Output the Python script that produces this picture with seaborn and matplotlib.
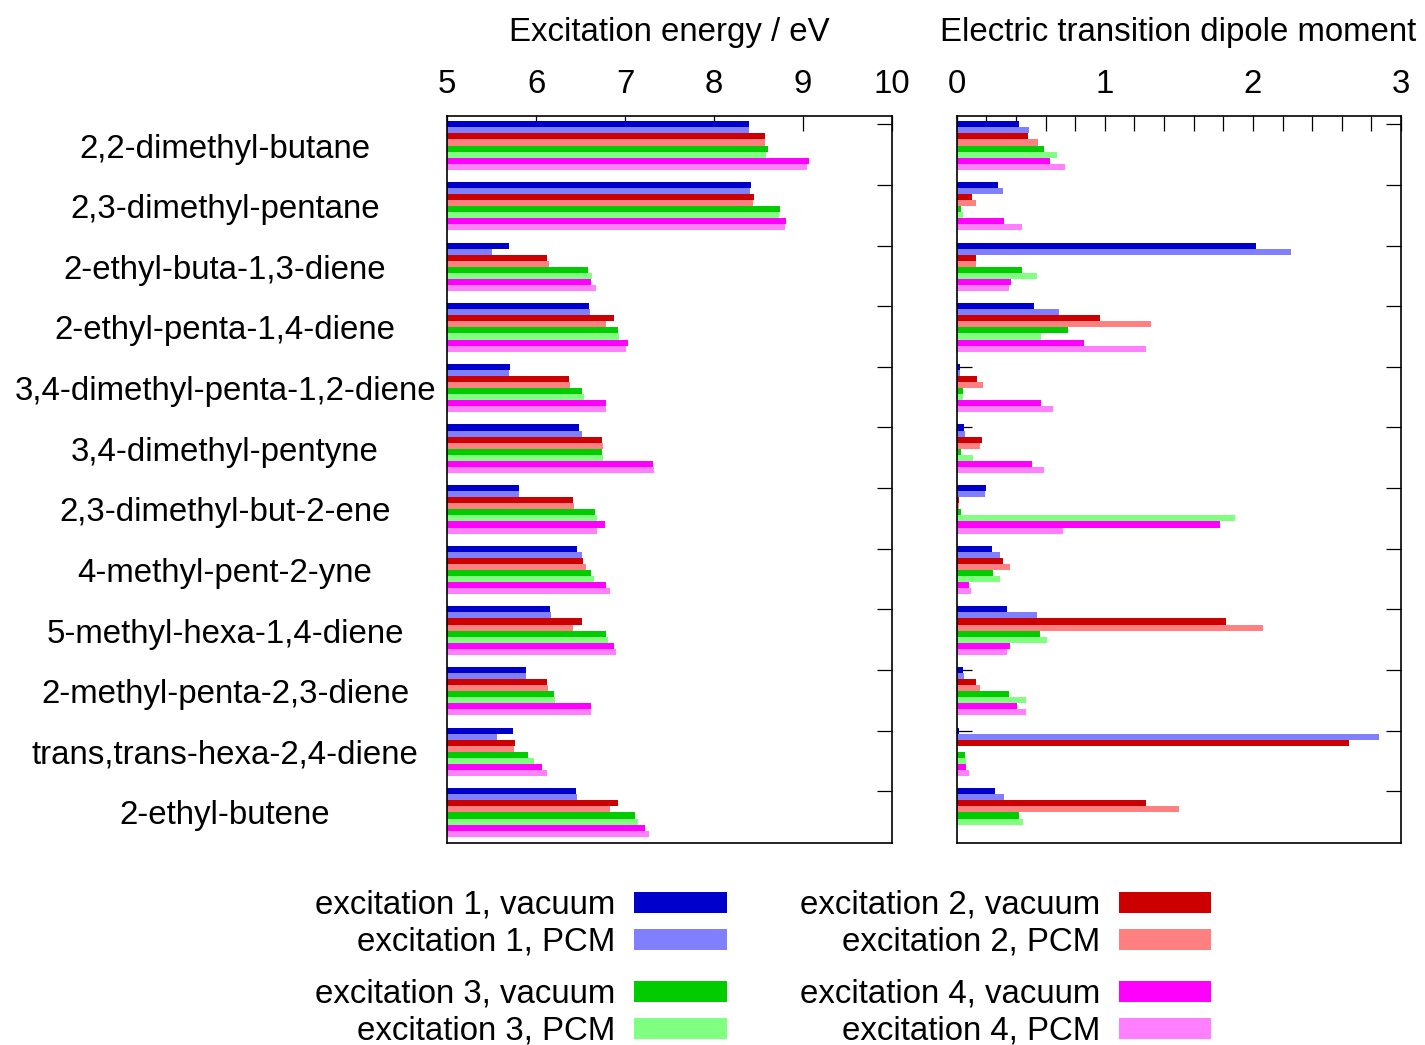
import numpy as np
import pandas as pd
import matplotlib
matplotlib.use("Agg")
import matplotlib.pyplot as plt
from matplotlib.patches import Rectangle
from matplotlib.ticker import MultipleLocator, FixedLocator
import seaborn as sns

molecules = ["2,2-dimethyl-butane", "2,3-dimethyl-pentane", "2-ethyl-buta-1,3-diene",
             "2-ethyl-penta-1,4-diene", "3,4-dimethyl-penta-1,2-diene", "3,4-dimethyl-pentyne",
             "2,3-dimethyl-but-2-ene", "4-methyl-pent-2-yne", "5-methyl-hexa-1,4-diene",
             "2-methyl-penta-2,3-diene", "trans,trans-hexa-2,4-diene", "2-ethyl-butene"]

series = ["excitation 1, vacuum", "excitation 1, PCM",
          "excitation 2, vacuum", "excitation 2, PCM",
          "excitation 3, vacuum", "excitation 3, PCM",
          "excitation 4, vacuum", "excitation 4, PCM"]

colors = ["#0000CC", "#8080FF", "#CC0000", "#FF8080",
          "#00CC00", "#80FF80", "#FF00FF", "#FF80FF"]

# Excitation energies / eV
e1_vac = [8.40, 8.42, 5.69, 6.59, 5.71, 6.48, 5.81, 6.46, 6.16, 5.88, 5.74, 6.45]
e1_pcm = [8.39, 8.41, 5.50, 6.60, 5.69, 6.51, 5.81, 6.51, 6.17, 5.89, 5.56, 6.46]
e2_vac = [8.58, 8.45, 6.12, 6.88, 6.37, 6.74, 6.41, 6.53, 6.51, 6.12, 5.76, 6.92]
e2_pcm = [8.58, 8.44, 6.14, 6.79, 6.38, 6.75, 6.43, 6.56, 6.41, 6.13, 5.75, 6.83]
e3_vac = [8.61, 8.74, 6.58, 6.92, 6.51, 6.74, 6.66, 6.62, 6.79, 6.20, 5.91, 7.11]
e3_pcm = [8.59, 8.73, 6.63, 6.93, 6.54, 6.75, 6.68, 6.65, 6.81, 6.21, 5.98, 7.15]
e4_vac = [9.07, 8.81, 6.62, 7.03, 6.78, 7.31, 6.77, 6.79, 6.88, 6.62, 6.07, 7.22]
e4_pcm = [9.05, 8.80, 6.67, 7.01, 6.79, 7.33, 6.68, 6.83, 6.90, 6.62, 6.12, 7.27]

# Electric transition dipole moments
d1_vac = [0.42, 0.28, 2.02, 0.52, 0.020, 0.050, 0.20, 0.240, 0.34, 0.045, 0.013, 0.26]
d1_pcm = [0.49, 0.31, 2.26, 0.69, 0.020, 0.054, 0.19, 0.290, 0.54, 0.047, 2.85, 0.32]
d2_vac = [0.48, 0.10, 0.13, 0.97, 0.140, 0.170, 0.013, 0.310, 1.82, 0.130, 2.65, 1.28]
d2_pcm = [0.55, 0.13, 0.13, 1.31, 0.180, 0.160, 0.016, 0.360, 2.07, 0.160, 0.005, 1.50]
d3_vac = [0.59, 0.03, 0.44, 0.75, 0.040, 0.030, 0.03, 0.245, 0.56, 0.350, 0.054, 0.42]
d3_pcm = [0.68, 0.04, 0.54, 0.57, 0.045, 0.110, 1.88, 0.290, 0.61, 0.470, 0.065, 0.45]
d4_vac = [0.63, 0.32, 0.37, 0.86, 0.570, 0.510, 1.78, 0.080, 0.36, 0.410, 0.060, 0.005]
d4_pcm = [0.73, 0.44, 0.35, 1.28, 0.650, 0.590, 0.72, 0.095, 0.34, 0.470, 0.083, 0.005]

energy_arrays = [e1_vac, e1_pcm, e2_vac, e2_pcm, e3_vac, e3_pcm, e4_vac, e4_pcm]
dipole_arrays = [d1_vac, d1_pcm, d2_vac, d2_pcm, d3_vac, d3_pcm, d4_vac, d4_pcm]


def long_df(arrays):
    rows = []
    for s, vals in zip(series, arrays):
        for m, v in zip(molecules, vals):
            rows.append((m, s, v))
    return pd.DataFrame(rows, columns=["molecule", "series", "value"])


sns.set_theme(style="white")
plt.rcParams["font.family"] = ["Liberation Sans", "DejaVu Sans"]

W, H = 1425, 1045
FS = 23.8
fig = plt.figure(figsize=(W / 100, H / 100), dpi=100)


def fx(px):
    return px / W


def fy(py):
    return 1 - py / H


top_px, bot_px = 115.7, 843.3
axL = fig.add_axes([fx(447.3), fy(bot_px), (891.7 - 447.3) / W, (bot_px - top_px) / H])
axR = fig.add_axes([fx(956.7), fy(bot_px), (1401.0 - 956.7) / W, (bot_px - top_px) / H])

for ax, arrays in ((axL, energy_arrays), (axR, dipole_arrays)):
    sns.barplot(data=long_df(arrays), x="value", y="molecule", hue="series",
                order=molecules, hue_order=series, palette=colors, orient="h",
                width=0.8, errorbar=None, legend=False, saturation=1,
                linewidth=0, ax=ax)

axL.set_xlim(5, 10)
axL.xaxis.set_major_locator(FixedLocator([5, 6, 7, 8, 9, 10]))
axR.set_xlim(0, 3)
axR.xaxis.set_major_locator(MultipleLocator(1))
axR.xaxis.set_minor_locator(MultipleLocator(0.2))

for ax in (axL, axR):
    ax.set_ylim(11.508, -0.492)
    ax.set_xlabel("")
    ax.set_ylabel("")
    ax.xaxis.tick_top()
    ax.tick_params(axis="x", which="both", direction="in", length=10.8, width=0.9,
                   top=True, bottom=False, labeltop=True, labelbottom=False,
                   labelsize=FS, pad=11, color="black", labelcolor="black")
    ax.yaxis.set_minor_locator(FixedLocator(np.arange(12) - 0.35))
    ax.tick_params(axis="y", which="minor", direction="in", length=10.8, width=0.9,
                   left=True, right=True, color="black")
    for sp in ax.spines.values():
        sp.set_linewidth(1.2)
        sp.set_color("black")

axL.set_yticks(np.arange(12))
axL.set_yticklabels(molecules, fontsize=FS, ha="center", color="black")
axL.tick_params(axis="y", which="major", length=0, pad=160)
axR.set_yticks(np.arange(12))
axR.set_yticklabels([])
axR.tick_params(axis="y", which="major", length=0)

fig.text(fx(669.5), fy(32), "Excitation energy / eV", ha="center", va="center",
         fontsize=FS, color="black")
fig.text(fx(1178), fy(32), "Electric transition dipole moment", ha="center",
         va="center", fontsize=FS, color="black")

# Legend
row_y = [902, 939, 991, 1028]
left_idx = [0, 1, 4, 5]
right_idx = [2, 3, 6, 7]
for y, li, ri in zip(row_y, left_idx, right_idx):
    for idx, tx, x0, x1 in ((li, 615, 634, 727), (ri, 1100, 1119, 1211)):
        fig.text(fx(tx), fy(y + 3), series[idx], ha="right", va="center",
                 fontsize=FS, color="black")
        fig.add_artist(Rectangle((fx(x0), fy(y + 10.5)), (x1 - x0) / W, 21 / H,
                                 transform=fig.transFigure, facecolor=colors[idx],
                                 edgecolor="none"))

fig.savefig("out.png", dpi=100)
